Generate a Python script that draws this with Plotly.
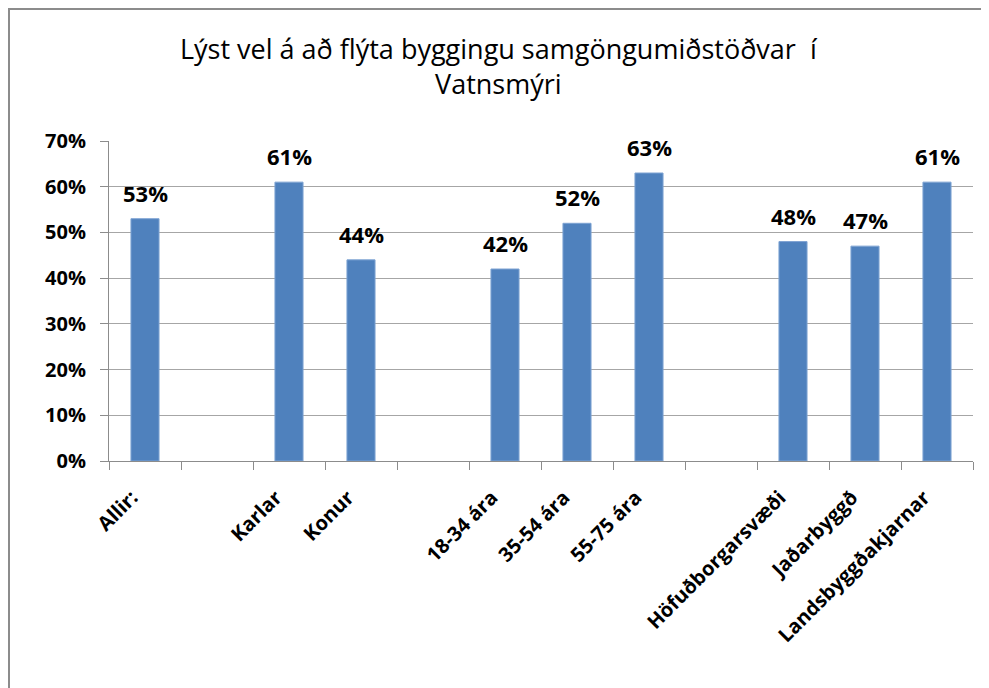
import plotly.graph_objects as go

categories = ["Allir:", " ", "Karlar", "Konur", "  ", "18-34 ára", "35-54 ára", "55-75 ára",
              "   ", "Höfuðborgarsvæði", "Jaðarbyggð", "Landsbyggðakjarnar"]
values = [53, None, 61, 44, None, 42, 52, 63, None, 48, 47, 61]
labels = ["53%", "", "61%", "44%", "", "42%", "52%", "63%", "", "48%", "47%", "61%"]
y_ticks = [0, 10, 20, 30, 40, 50, 60, 70]
y_tick_labels = ["0%", "10%", "20%", "30%", "40%", "50%", "60%", "70%"]
title_text = "Lýst vel á að flýta byggingu samgöngumiðstöðvar  í<br>Vatnsmýri"

W, H = 981, 680
L, R, T, B = 101, 16, 133, 227
pw, ph = W - L - R, H - T - B

font = "Open Sans"

fig = go.Figure()
fig.add_trace(go.Bar(
    x=categories, y=values,
    marker=dict(color="#4F81BD", line=dict(color="#7EA3D3", width=1)),
    width=0.39,
    hoverinfo="skip",
))

for c, v, t in zip(categories, values, labels):
    if v is None:
        continue
    fig.add_annotation(x=c, y=v, text="<b>%s</b>" % t, showarrow=False,
                       yanchor="bottom", yshift=9,
                       font=dict(family=font, size=22, color="#000000"))

# title as annotation for exact placement
fig.add_annotation(text=title_text, xref="paper", yref="paper",
                   x=(491 - L) / pw, y=(H - 20 - B) / ph, xanchor="center", yanchor="top",
                   showarrow=False, align="center",
                   font=dict(family=font, size=27, color="#000000"))

# outer chart frame
fx0 = (1 - L) / pw
fx1 = (W + 10 - L) / pw
fy1 = (H - 1 - B) / ph
fy0 = (-10 - B) / ph
fig.add_shape(type="rect", xref="paper", yref="paper", x0=fx0, x1=fx1, y0=fy0, y1=fy1,
              line=dict(color="#8C8C8C", width=2), fillcolor="rgba(0,0,0,0)", layer="below")

fig.update_layout(
    width=W, height=H,
    margin=dict(l=L, r=R, t=T, b=B, autoexpand=False),
    paper_bgcolor="white", plot_bgcolor="white",
    showlegend=False,
    xaxis=dict(
        type="category", categoryorder="array", categoryarray=categories,
        tickmode="array", tickvals=categories,
        ticktext=["<b>%s</b>" % c.strip() if c.strip() else "" for c in categories],
        tickangle=-45, tickson="boundaries", ticks="outside", ticklen=8,
        tickcolor="#8C8C8C", tickwidth=1,
        showline=True, linecolor="#8C8C8C", linewidth=1,
        showgrid=False, range=[-0.5, 11.5],
        ticklabelstandoff=16, ticklabelshift=-13,
        tickfont=dict(family=font, size=20, color="#000000"),
    ),
    yaxis=dict(
        range=[0, 70], tickmode="array", tickvals=y_ticks,
        ticktext=["<b>%s</b>" % s for s in y_tick_labels],
        ticks="outside", ticklen=8, tickcolor="#8C8C8C",
        showline=True, linecolor="#8C8C8C", linewidth=1,
        showgrid=True, gridcolor="#A6A6A6", gridwidth=1,
        zeroline=False, ticklabelstandoff=10,
        tickfont=dict(family=font, size=20, color="#000000"),
    ),
)

fig.write_html("out.html")
